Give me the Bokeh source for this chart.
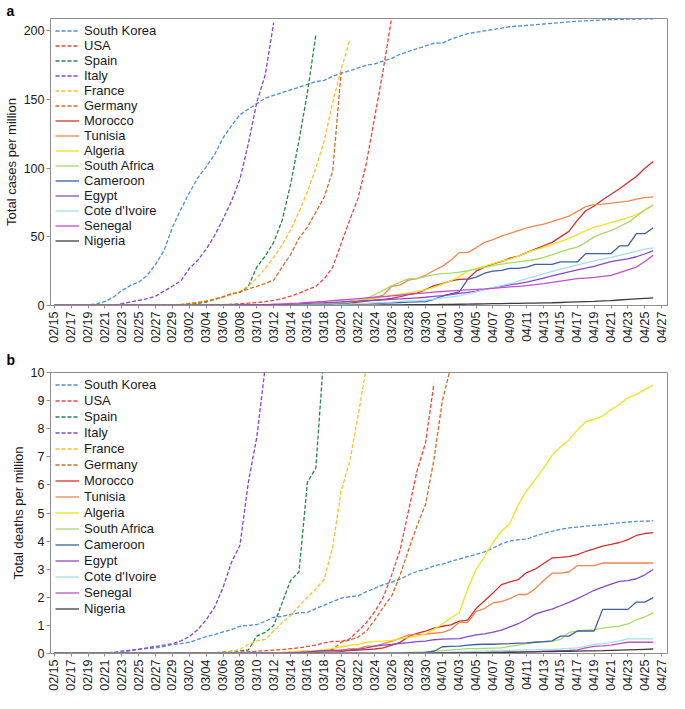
import math
from bokeh.plotting import figure
from bokeh.models import Legend, FixedTicker, Range1d, Title
from bokeh.layouts import column
from bokeh.embed import file_html
from bokeh.resources import INLINE

# ---------------- data ----------------
dates = ["02/15", "02/16", "02/17", "02/18", "02/19", "02/20", "02/21", "02/22", "02/23", "02/24",
         "02/25", "02/26", "02/27", "02/28", "02/29", "03/01", "03/02", "03/03", "03/04", "03/05",
         "03/06", "03/07", "03/08", "03/09", "03/10", "03/11", "03/12", "03/13", "03/14", "03/15",
         "03/16", "03/17", "03/18", "03/19", "03/20", "03/21", "03/22", "03/23", "03/24", "03/25",
         "03/26", "03/27", "03/28", "03/29", "03/30", "03/31", "04/01", "04/02", "04/03", "04/04",
         "04/05", "04/06", "04/07", "04/08", "04/09", "04/10", "04/11", "04/12", "04/13", "04/14",
         "04/15", "04/16", "04/17", "04/18", "04/19", "04/20", "04/21", "04/22", "04/23", "04/24",
         "04/25", "04/26", "04/27"]

countries = ["South Korea", "USA", "Spain", "Italy", "France", "Germany", "Morocco", "Tunisia",
             "Algeria", "South Africa", "Cameroon", "Egypt", "Cote d'Ivoire", "Senegal", "Nigeria"]

# total cases per million
cases_south_korea = [0.3, 0.3, 0.3, 0.4, 0.6, 1.0, 3.0, 6.0, 11.0, 14.5,
                     17.0, 22.0, 30.0, 40.0, 57.0, 70.0, 82.0, 93.0, 101.0, 110.0,
                     122.0, 131.0, 139.0, 143.0, 147.0, 151.0, 153.0, 155.0, 157.0, 159.0,
                     161.0, 163.0, 164.0, 167.0, 169.0, 171.0, 173.0, 175.0, 176.0, 178.0,
                     180.0, 183.0, 185.0, 187.0, 189.0, 191.0, 191.0, 194.0, 196.0, 198.0,
                     199.0, 200.0, 201.0, 202.0, 203.0, 203.5, 204.0, 204.5, 205.0, 205.5,
                     206.0, 206.5, 207.0, 207.3, 207.6, 208.0, 208.2, 208.4, 208.5, 208.6,
                     208.7, 208.8]
cases_usa = [0.05, 0.05, 0.05, 0.05, 0.05, 0.05, 0.05, 0.05, 0.05, 0.05,
             0.05, 0.05, 0.05, 0.05, 0.05, 0.1, 0.2, 0.3, 0.4, 0.5,
             0.7, 1.0, 1.3, 1.7, 2.1, 2.8, 3.7, 5.0, 6.8, 9.0,
             11.5, 14.0, 19.5, 28.0, 45.0, 62.0, 78.0, 104.0, 138.0, 172.0,
             210.0, 245.0]
cases_spain = [0.0, 0.0, 0.0, 0.0, 0.0, 0.0, 0.0, 0.0, 0.0, 0.0,
               0.0, 0.0, 0.0, 0.0, 0.1, 0.3, 1.0, 1.5, 2.5, 4.5,
               6.0, 8.5, 9.5, 14.0, 28.0, 36.0, 46.0, 62.0, 88.0, 120.0,
               155.0, 197.0]
cases_italy = [0.0, 0.0, 0.0, 0.0, 0.0, 0.0, 0.0, 0.3, 1.3, 2.5,
               3.7, 5.0, 6.8, 10.5, 14.0, 18.0, 27.0, 33.0, 41.0, 51.0,
               63.0, 76.0, 92.0, 118.0, 148.0, 168.0, 206.0]
cases_france = [0.1, 0.1, 0.1, 0.1, 0.1, 0.1, 0.1, 0.1, 0.1, 0.1,
                0.1, 0.1, 0.1, 0.1, 0.2, 1.0, 1.5, 2.5, 3.5, 4.5,
                6.0, 8.0, 10.5, 14.0, 20.0, 27.0, 35.0, 44.0, 55.0, 68.0,
                83.0, 100.0, 120.0, 148.0, 172.0, 193.0]
cases_germany = [0.2, 0.2, 0.2, 0.2, 0.2, 0.2, 0.2, 0.2, 0.2, 0.2,
                 0.2, 0.2, 0.2, 0.2, 0.3, 0.5, 1.5, 2.0, 3.0, 4.5,
                 6.5, 8.5, 10.0, 12.0, 14.0, 16.0, 18.5, 28.0, 37.0, 49.0,
                 57.0, 68.0, 79.0, 98.0, 170.0]
cases_morocco = [0.0, 0.0, 0.0, 0.0, 0.0, 0.0, 0.0, 0.0, 0.0, 0.0,
                 0.0, 0.0, 0.0, 0.0, 0.0, 0.0, 0.0, 0.0, 0.0, 0.0,
                 0.0, 0.0, 0.0, 0.0, 0.05, 0.1, 0.15, 0.2, 0.25, 0.3,
                 0.5, 0.7, 0.9, 1.2, 1.6, 2.0, 2.5, 3.2, 4.0, 4.5,
                 5.2, 6.5, 8.0, 9.0, 11.5, 14.5, 16.0, 18.0, 19.0, 19.3,
                 25.0, 28.0, 30.3, 32.0, 34.5, 36.0, 38.5, 41.0, 43.5, 46.0,
                 50.0, 54.0, 62.0, 69.0, 72.5, 77.0, 81.0, 85.0, 89.5, 94.0,
                 100.0, 104.9]
cases_tunisia = [0.0, 0.0, 0.0, 0.0, 0.0, 0.0, 0.0, 0.0, 0.0, 0.0,
                 0.0, 0.0, 0.0, 0.0, 0.0, 0.0, 0.0, 0.0, 0.0, 0.0,
                 0.0, 0.1, 0.1, 0.15, 0.2, 0.25, 0.3, 0.4, 0.5, 0.6,
                 0.8, 1.0, 1.4, 1.8, 2.3, 2.8, 3.3, 4.5, 6.0, 7.6,
                 14.0, 15.0, 18.5, 19.5, 22.0, 25.5, 28.5, 33.0, 38.5, 38.5,
                 42.0, 46.0, 48.0, 50.5, 52.5, 54.5, 56.5, 58.0, 59.3, 61.0,
                 63.0, 65.0, 68.5, 72.0, 73.5, 73.8, 74.5, 75.3, 76.0, 77.5,
                 78.5, 79.1]
cases_algeria = [0.0, 0.0, 0.0, 0.0, 0.0, 0.0, 0.0, 0.0, 0.0, 0.0,
                 0.0, 0.0, 0.0, 0.0, 0.0, 0.0, 0.0, 0.0, 0.0, 0.0,
                 0.0, 0.0, 0.0, 0.0, 0.1, 0.2, 0.4, 0.5, 0.8, 1.0,
                 1.2, 1.4, 1.7, 2.0, 2.5, 3.2, 4.0, 4.7, 5.4, 6.3,
                 7.3, 8.2, 9.2, 10.2, 11.5, 13.2, 15.5, 18.0, 21.0, 25.0,
                 27.0, 28.6, 30.5, 32.3, 33.7, 36.0, 38.5, 40.5, 42.3, 44.5,
                 46.5, 49.0, 51.5, 54.5, 57.0, 58.5, 60.5, 62.0, 64.0, 66.0,
                 69.5, 73.0]
cases_south_africa = [0.0, 0.0, 0.0, 0.0, 0.0, 0.0, 0.0, 0.0, 0.0, 0.0,
                      0.0, 0.0, 0.0, 0.0, 0.0, 0.0, 0.0, 0.0, 0.0, 0.0,
                      0.0, 0.0, 0.0, 0.0, 0.05, 0.1, 0.15, 0.2, 0.3, 0.4,
                      0.6, 0.8, 1.0, 1.5, 2.0, 2.5, 3.5, 5.0, 8.0, 11.0,
                      14.5, 17.0, 19.5, 19.5, 21.0, 22.5, 23.2, 23.6, 24.3, 25.3,
                      26.5, 27.8, 29.0, 30.2, 31.0, 31.8, 32.6, 33.5, 35.0, 36.8,
                      39.0, 41.0, 42.5, 46.0, 50.0, 52.5, 54.5, 57.5, 60.5, 65.0,
                      69.5, 73.4]
cases_cameroon = [0.0, 0.0, 0.0, 0.0, 0.0, 0.0, 0.0, 0.0, 0.0, 0.0,
                  0.0, 0.0, 0.0, 0.0, 0.0, 0.0, 0.0, 0.0, 0.0, 0.0,
                  0.0, 0.0, 0.0, 0.0, 0.0, 0.05, 0.1, 0.15, 0.2, 0.25,
                  0.3, 0.4, 0.6, 0.8, 1.0, 1.2, 1.3, 1.4, 1.5, 1.8,
                  2.0, 2.2, 2.4, 2.6, 2.8, 4.5, 6.8, 8.5, 10.0, 19.0,
                  20.6, 23.5, 25.0, 25.6, 27.0, 27.0, 28.0, 30.0, 30.0, 30.0,
                  31.7, 31.7, 31.7, 37.8, 37.8, 37.8, 37.8, 43.4, 43.4, 52.3,
                  52.3, 56.6]
cases_egypt = [0.0, 0.0, 0.0, 0.0, 0.0, 0.0, 0.0, 0.0, 0.0, 0.0,
               0.0, 0.0, 0.01, 0.01, 0.02, 0.02, 0.02, 0.03, 0.05, 0.1,
               0.15, 0.3, 0.5, 0.55, 0.6, 0.7, 0.8, 0.9, 1.0, 1.2,
               1.5, 1.9, 2.0, 2.3, 2.6, 3.0, 3.2, 3.5, 3.8, 4.1,
               4.5, 4.8, 5.2, 5.6, 6.0, 6.6, 7.2, 8.0, 8.8, 9.6,
               10.5, 11.7, 13.0, 14.0, 15.0, 16.0, 17.0, 18.5, 20.0, 21.5,
               23.0, 24.5, 26.0, 27.2, 28.5, 30.3, 32.0, 33.0, 34.0, 35.5,
               37.5, 40.0]
cases_cote_divoire = [0.0, 0.0, 0.0, 0.0, 0.0, 0.0, 0.0, 0.0, 0.0, 0.0,
                      0.0, 0.0, 0.0, 0.0, 0.0, 0.0, 0.0, 0.0, 0.0, 0.0,
                      0.0, 0.0, 0.0, 0.0, 0.0, 0.01, 0.02, 0.05, 0.1, 0.2,
                      0.3, 0.4, 0.5, 0.6, 0.8, 1.0, 1.3, 1.6, 2.0, 2.3,
                      2.5, 3.0, 3.3, 3.6, 4.0, 4.7, 5.5, 6.2, 7.0, 8.5,
                      10.0, 11.5, 13.0, 14.5, 16.0, 17.8, 19.5, 21.2, 23.0, 24.8,
                      26.5, 28.0, 29.5, 31.0, 32.5, 33.7, 35.0, 36.5, 38.0, 39.5,
                      41.0, 42.0]
cases_senegal = [0.0, 0.0, 0.0, 0.0, 0.0, 0.0, 0.0, 0.0, 0.0, 0.0,
                 0.0, 0.0, 0.0, 0.0, 0.0, 0.0, 0.06, 0.1, 0.1, 0.2,
                 0.25, 0.25, 0.3, 0.3, 0.4, 0.5, 0.8, 1.0, 1.5, 1.8,
                 2.2, 2.6, 3.0, 3.5, 4.0, 4.5, 5.0, 5.5, 6.0, 6.5,
                 7.0, 7.6, 8.2, 8.7, 9.2, 9.7, 10.2, 10.6, 11.0, 11.4,
                 11.8, 12.1, 12.5, 13.0, 13.5, 14.0, 14.5, 15.2, 16.0, 16.9,
                 17.8, 18.7, 19.5, 20.0, 20.5, 21.2, 22.0, 24.0, 26.0, 28.0,
                 32.0, 36.6]
cases_nigeria = [0.0, 0.0, 0.0, 0.0, 0.0, 0.0, 0.0, 0.0, 0.0, 0.0,
                 0.0, 0.0, 0.0, 0.01, 0.01, 0.01, 0.01, 0.01, 0.01, 0.01,
                 0.01, 0.01, 0.01, 0.01, 0.01, 0.01, 0.01, 0.01, 0.01, 0.01,
                 0.01, 0.05, 0.06, 0.1, 0.12, 0.15, 0.2, 0.25, 0.3, 0.35,
                 0.4, 0.5, 0.55, 0.6, 0.65, 0.7, 0.75, 0.8, 0.9, 1.0,
                 1.1, 1.2, 1.3, 1.4, 1.5, 1.6, 1.7, 1.8, 1.9, 2.0,
                 2.2, 2.4, 2.6, 2.8, 3.0, 3.3, 3.6, 4.0, 4.4, 4.8,
                 5.2, 5.6]

# total deaths per million
deaths_south_korea = [0.0, 0.0, 0.0, 0.0, 0.0, 0.0, 0.02, 0.04, 0.09, 0.12,
                      0.15, 0.18, 0.2, 0.25, 0.32, 0.35, 0.4, 0.5, 0.6, 0.67,
                      0.77, 0.85, 0.97, 1.0, 1.03, 1.15, 1.29, 1.32, 1.39, 1.45,
                      1.46, 1.6, 1.72, 1.85, 1.97, 2.02, 2.05, 2.2, 2.32, 2.45,
                      2.54, 2.65, 2.8, 2.92, 3.0, 3.12, 3.18, 3.28, 3.36, 3.45,
                      3.52, 3.62, 3.75, 3.9, 4.0, 4.05, 4.07, 4.18, 4.27, 4.35,
                      4.42, 4.47, 4.5, 4.53, 4.56, 4.58, 4.62, 4.65, 4.68, 4.7,
                      4.71, 4.72]
deaths_usa = [0.0, 0.0, 0.0, 0.0, 0.0, 0.0, 0.0, 0.0, 0.0, 0.0,
              0.0, 0.0, 0.0, 0.0, 0.0, 0.005, 0.01, 0.01, 0.015, 0.02,
              0.03, 0.04, 0.05, 0.06, 0.08, 0.1, 0.12, 0.14, 0.17, 0.2,
              0.25, 0.3, 0.38, 0.43, 0.43, 0.52, 0.8, 1.1, 1.5, 2.0,
              2.8, 3.7, 5.1, 6.5, 7.5, 9.6]
deaths_spain = [0.0, 0.0, 0.0, 0.0, 0.0, 0.0, 0.0, 0.0, 0.0, 0.0,
                0.0, 0.0, 0.0, 0.0, 0.0, 0.0, 0.0, 0.0, 0.01, 0.02,
                0.05, 0.08, 0.1, 0.12, 0.62, 0.75, 1.0, 1.8, 2.6, 2.9,
                6.1, 6.6, 10.9]
deaths_italy = [0.0, 0.0, 0.0, 0.0, 0.0, 0.0, 0.0, 0.01, 0.05, 0.1,
                0.15, 0.2, 0.25, 0.3, 0.35, 0.45, 0.6, 0.85, 1.2, 1.65,
                2.35, 3.25, 3.85, 6.1, 7.7, 10.2]
deaths_france = [0.0, 0.0, 0.0, 0.0, 0.0, 0.0, 0.0, 0.0, 0.0, 0.0,
                 0.0, 0.0, 0.0, 0.0, 0.01, 0.01, 0.01, 0.02, 0.02, 0.03,
                 0.05, 0.07, 0.15, 0.32, 0.45, 0.5, 0.8, 1.1, 1.35, 1.68,
                 2.0, 2.3, 2.65, 3.8, 5.8, 6.8, 8.45, 10.2]
deaths_germany = [0.0, 0.0, 0.0, 0.0, 0.0, 0.0, 0.0, 0.0, 0.0, 0.0,
                  0.0, 0.0, 0.0, 0.0, 0.0, 0.0, 0.0, 0.0, 0.0, 0.0,
                  0.0, 0.0, 0.0, 0.0, 0.0, 0.01, 0.02, 0.03, 0.05, 0.07,
                  0.08, 0.1, 0.12, 0.14, 0.4, 0.48, 0.58, 0.8, 1.2, 1.65,
                  2.05, 2.8, 3.7, 4.55, 5.3, 6.9, 9.0, 10.2]
deaths_morocco = [0.0, 0.0, 0.0, 0.0, 0.0, 0.0, 0.0, 0.0, 0.0, 0.0,
                  0.0, 0.0, 0.0, 0.0, 0.0, 0.0, 0.0, 0.0, 0.0, 0.0,
                  0.0, 0.0, 0.0, 0.0, 0.0, 0.0, 0.01, 0.01, 0.02, 0.03,
                  0.04, 0.05, 0.06, 0.07, 0.08, 0.1, 0.12, 0.14, 0.16, 0.2,
                  0.3, 0.4, 0.6, 0.72, 0.8, 0.9, 0.97, 1.02, 1.15, 1.19,
                  1.6, 1.88, 2.15, 2.45, 2.55, 2.63, 2.88, 3.0, 3.2, 3.4,
                  3.42, 3.45, 3.52, 3.63, 3.72, 3.82, 3.88, 3.95, 4.05, 4.2,
                  4.27, 4.3]
deaths_tunisia = [0.0, 0.0, 0.0, 0.0, 0.0, 0.0, 0.0, 0.0, 0.0, 0.0,
                  0.0, 0.0, 0.0, 0.0, 0.0, 0.0, 0.0, 0.0, 0.0, 0.0,
                  0.0, 0.0, 0.0, 0.0, 0.0, 0.0, 0.0, 0.0, 0.0, 0.0,
                  0.04, 0.05, 0.05, 0.08, 0.1, 0.17, 0.17, 0.26, 0.26, 0.35,
                  0.43, 0.55, 0.66, 0.68, 0.69, 0.72, 0.75, 0.85, 1.11, 1.11,
                  1.5, 1.6, 1.8, 1.85, 1.95, 2.1, 2.1, 2.3, 2.6, 2.86,
                  2.86, 2.9, 3.13, 3.13, 3.13, 3.22, 3.22, 3.22, 3.22, 3.22,
                  3.22, 3.22]
deaths_algeria = [0.0, 0.0, 0.0, 0.0, 0.0, 0.0, 0.0, 0.0, 0.0, 0.0,
                  0.0, 0.0, 0.0, 0.0, 0.0, 0.0, 0.0, 0.0, 0.0, 0.0,
                  0.0, 0.0, 0.0, 0.0, 0.0, 0.01, 0.02, 0.04, 0.06, 0.08,
                  0.1, 0.11, 0.13, 0.18, 0.24, 0.29, 0.32, 0.4, 0.43, 0.44,
                  0.47, 0.52, 0.57, 0.62, 0.7, 0.86, 1.05, 1.27, 1.45, 2.3,
                  2.99, 3.45, 3.95, 4.35, 4.62, 5.3, 5.8, 6.2, 6.6, 7.05,
                  7.35, 7.6, 7.95, 8.25, 8.33, 8.45, 8.68, 8.87, 9.1, 9.22,
                  9.4, 9.55]
deaths_south_africa = [0.0, 0.0, 0.0, 0.0, 0.0, 0.0, 0.0, 0.0, 0.0, 0.0,
                       0.0, 0.0, 0.0, 0.0, 0.0, 0.0, 0.0, 0.0, 0.0, 0.0,
                       0.0, 0.0, 0.0, 0.0, 0.0, 0.0, 0.0, 0.0, 0.0, 0.0,
                       0.0, 0.0, 0.0, 0.0, 0.0, 0.0, 0.0, 0.0, 0.0, 0.01,
                       0.02, 0.03, 0.04, 0.05, 0.06, 0.08, 0.1, 0.13, 0.15, 0.17,
                       0.17, 0.18, 0.19, 0.2, 0.25, 0.3, 0.35, 0.4, 0.41, 0.43,
                       0.5, 0.75, 0.8, 0.83, 0.85, 0.9, 0.95, 0.97, 1.05, 1.2,
                       1.3, 1.45]
deaths_cameroon = [0.0, 0.0, 0.0, 0.0, 0.0, 0.0, 0.0, 0.0, 0.0, 0.0,
                   0.0, 0.0, 0.0, 0.0, 0.0, 0.0, 0.0, 0.0, 0.0, 0.0,
                   0.0, 0.0, 0.0, 0.0, 0.0, 0.0, 0.0, 0.0, 0.0, 0.0,
                   0.0, 0.0, 0.0, 0.0, 0.0, 0.0, 0.0, 0.0, 0.0, 0.0,
                   0.0, 0.0, 0.0, 0.0, 0.04, 0.08, 0.24, 0.25, 0.26, 0.3,
                   0.32, 0.33, 0.33, 0.34, 0.35, 0.37, 0.38, 0.4, 0.42, 0.45,
                   0.62, 0.62, 0.8, 0.8, 0.8, 1.57, 1.57, 1.57, 1.57, 1.83,
                   1.83, 1.99]
deaths_egypt = [0.0, 0.0, 0.0, 0.0, 0.0, 0.0, 0.0, 0.0, 0.0, 0.0,
                0.0, 0.0, 0.0, 0.0, 0.0, 0.0, 0.0, 0.0, 0.0, 0.0,
                0.0, 0.0, 0.0, 0.0, 0.0, 0.0, 0.0, 0.0, 0.02, 0.04,
                0.06, 0.08, 0.1, 0.11, 0.12, 0.13, 0.15, 0.2, 0.26, 0.3,
                0.32, 0.36, 0.39, 0.42, 0.44, 0.49, 0.51, 0.52, 0.53, 0.6,
                0.66, 0.7, 0.76, 0.83, 0.95, 1.06, 1.22, 1.4, 1.5, 1.58,
                1.7, 1.82, 1.95, 2.1, 2.25, 2.36, 2.47, 2.57, 2.59, 2.66,
                2.8, 2.99]
deaths_cote_divoire = [0.0, 0.0, 0.0, 0.0, 0.0, 0.0, 0.0, 0.0, 0.0, 0.0,
                       0.0, 0.0, 0.0, 0.0, 0.0, 0.0, 0.0, 0.0, 0.0, 0.0,
                       0.0, 0.0, 0.0, 0.0, 0.0, 0.0, 0.0, 0.0, 0.0, 0.0,
                       0.0, 0.0, 0.0, 0.0, 0.0, 0.0, 0.0, 0.0, 0.0, 0.0,
                       0.0, 0.01, 0.01, 0.02, 0.02, 0.03, 0.04, 0.05, 0.06, 0.07,
                       0.08, 0.09, 0.1, 0.11, 0.11, 0.12, 0.13, 0.14, 0.15, 0.15,
                       0.16, 0.18, 0.2, 0.25, 0.32, 0.35, 0.39, 0.45, 0.52, 0.52,
                       0.52, 0.52]
deaths_senegal = [0.0, 0.0, 0.0, 0.0, 0.0, 0.0, 0.0, 0.0, 0.0, 0.0,
                  0.0, 0.0, 0.0, 0.0, 0.0, 0.0, 0.0, 0.0, 0.0, 0.0,
                  0.0, 0.0, 0.0, 0.0, 0.0, 0.0, 0.0, 0.0, 0.0, 0.0,
                  0.0, 0.0, 0.0, 0.0, 0.0, 0.0, 0.0, 0.0, 0.0, 0.0,
                  0.0, 0.0, 0.0, 0.0, 0.0, 0.0, 0.0, 0.0, 0.01, 0.02,
                  0.03, 0.03, 0.04, 0.04, 0.05, 0.05, 0.06, 0.07, 0.08, 0.09,
                  0.1, 0.11, 0.13, 0.2, 0.25, 0.27, 0.3, 0.35, 0.4, 0.4,
                  0.4, 0.4]
deaths_nigeria = [0.0, 0.0, 0.0, 0.0, 0.0, 0.0, 0.0, 0.0, 0.0, 0.0,
                  0.0, 0.0, 0.0, 0.0, 0.0, 0.0, 0.0, 0.0, 0.0, 0.0,
                  0.0, 0.0, 0.0, 0.0, 0.0, 0.0, 0.0, 0.0, 0.0, 0.0,
                  0.0, 0.0, 0.0, 0.0, 0.0, 0.0, 0.0, 0.0, 0.0, 0.0,
                  0.005, 0.005, 0.01, 0.01, 0.015, 0.015, 0.02, 0.02, 0.025, 0.025,
                  0.03, 0.03, 0.035, 0.04, 0.045, 0.05, 0.055, 0.06, 0.065, 0.07,
                  0.075, 0.08, 0.085, 0.09, 0.095, 0.1, 0.11, 0.12, 0.13, 0.14,
                  0.15, 0.16]

cases = [cases_south_korea, cases_usa, cases_spain, cases_italy, cases_france, cases_germany,
         cases_morocco, cases_tunisia, cases_algeria, cases_south_africa, cases_cameroon,
         cases_egypt, cases_cote_divoire, cases_senegal, cases_nigeria]
deaths = [deaths_south_korea, deaths_usa, deaths_spain, deaths_italy, deaths_france, deaths_germany,
          deaths_morocco, deaths_tunisia, deaths_algeria, deaths_south_africa, deaths_cameroon,
          deaths_egypt, deaths_cote_divoire, deaths_senegal, deaths_nigeria]

cases_ticks = [0, 50, 100, 150, 200]
deaths_ticks = [0, 1, 2, 3, 4, 5, 6, 7, 8, 9, 10]

# ---------------- style ----------------
colors = ["#4b8fd6", "#ee463c", "#23874a", "#8a3fd4", "#fbbf2a", "#d56b2a",
          "#d22f2f", "#f0874f", "#f4e11c", "#a9d96a", "#3c5fa6", "#8b47c7",
          "#a3e2ea", "#bf4fd0", "#3d3d3d"]
dashed = [True, True, True, True, True, True,
          False, False, False, False, False, False, False, False, False]

FONT = "Liberation Sans"
GREY = "#8e8e8e"
W = 669
LEFT = 44
RIGHT = 2


def make_panel(series, y_end, y_ticks, letter, letter_standoff, y_title, height, top, bottom,
               leg_spacing, leg_padding, leg_line_height, leg_font):
    p = figure(width=W, height=height, output_backend="svg", toolbar_location=None,
               x_range=Range1d(-0.46, 72.69), y_range=Range1d(0, y_end),
               min_border_left=LEFT, min_border_right=RIGHT,
               min_border_top=top, min_border_bottom=bottom)
    p.title = Title(text=letter, align="left", offset=-LEFT, standoff=letter_standoff,
                    text_font=FONT, text_font_style="bold", text_font_size="14px",
                    text_color="black")
    p.grid.visible = False
    p.outline_line_color = GREY
    p.outline_line_width = 1
    p.background_fill_color = "white"
    p.border_fill_color = "white"

    xt = list(range(0, len(dates), 2))
    p.xaxis.ticker = FixedTicker(ticks=xt)
    p.xaxis.major_label_overrides = {i: dates[i] for i in xt}
    p.xaxis.major_label_orientation = math.pi / 2
    p.yaxis.ticker = FixedTicker(ticks=y_ticks)
    for ax in (p.xaxis[0], p.yaxis[0]):
        ax.axis_line_color = GREY
        ax.major_tick_line_color = GREY
        ax.minor_tick_line_color = None
        ax.major_tick_in = 0
        ax.major_label_text_font = FONT
        ax.major_label_text_color = "#1a1a1a"
    p.xaxis.major_tick_out = 3
    p.xaxis.major_label_standoff = 3
    p.xaxis.major_label_text_font_size = "12.5px"
    p.yaxis.major_tick_out = 4
    p.yaxis.major_label_standoff = 2
    p.yaxis.major_label_text_font_size = "12.5px"
    p.yaxis.axis_label = y_title
    p.yaxis.axis_label_standoff = 2
    p.yaxis.axis_label_text_font = FONT
    p.yaxis.axis_label_text_font_size = "13px"
    p.yaxis.axis_label_text_font_style = "normal"
    p.yaxis.axis_label_text_color = "#1a1a1a"

    items = []
    for name, vals, col, dsh in zip(countries, series, colors, dashed):
        xs = list(range(len(vals)))
        r = p.line(xs, vals, line_color=col, line_width=1.3,
                   line_dash="4 2" if dsh else "solid")
        items.append((name, [r]))
    leg = Legend(items=items, location="top_left", margin=0, padding=leg_padding,
                 spacing=leg_spacing, glyph_width=24, glyph_height=11, label_height=11,
                 label_standoff=5, label_text_font=FONT, label_text_font_size=leg_font,
                 label_text_line_height=leg_line_height,
                 label_text_color="#1a1a1a", background_fill_alpha=0, border_line_alpha=0)
    p.add_layout(leg)
    return p


top_p = make_panel(cases, 209, cases_ticks, "a", 0, "Total cases per million",
                   345, 0, 37, 0, 5, 0.8, "13px")
bot_p = make_panel(deaths, 10, deaths_ticks, "b", 9, "Total deaths per million",
                   348, 26, 37, 1, 5, 1.2, "13px")

layout = column(top_p, bot_p, spacing=0)
open("out.html", "w").write(file_html(layout, INLINE))
